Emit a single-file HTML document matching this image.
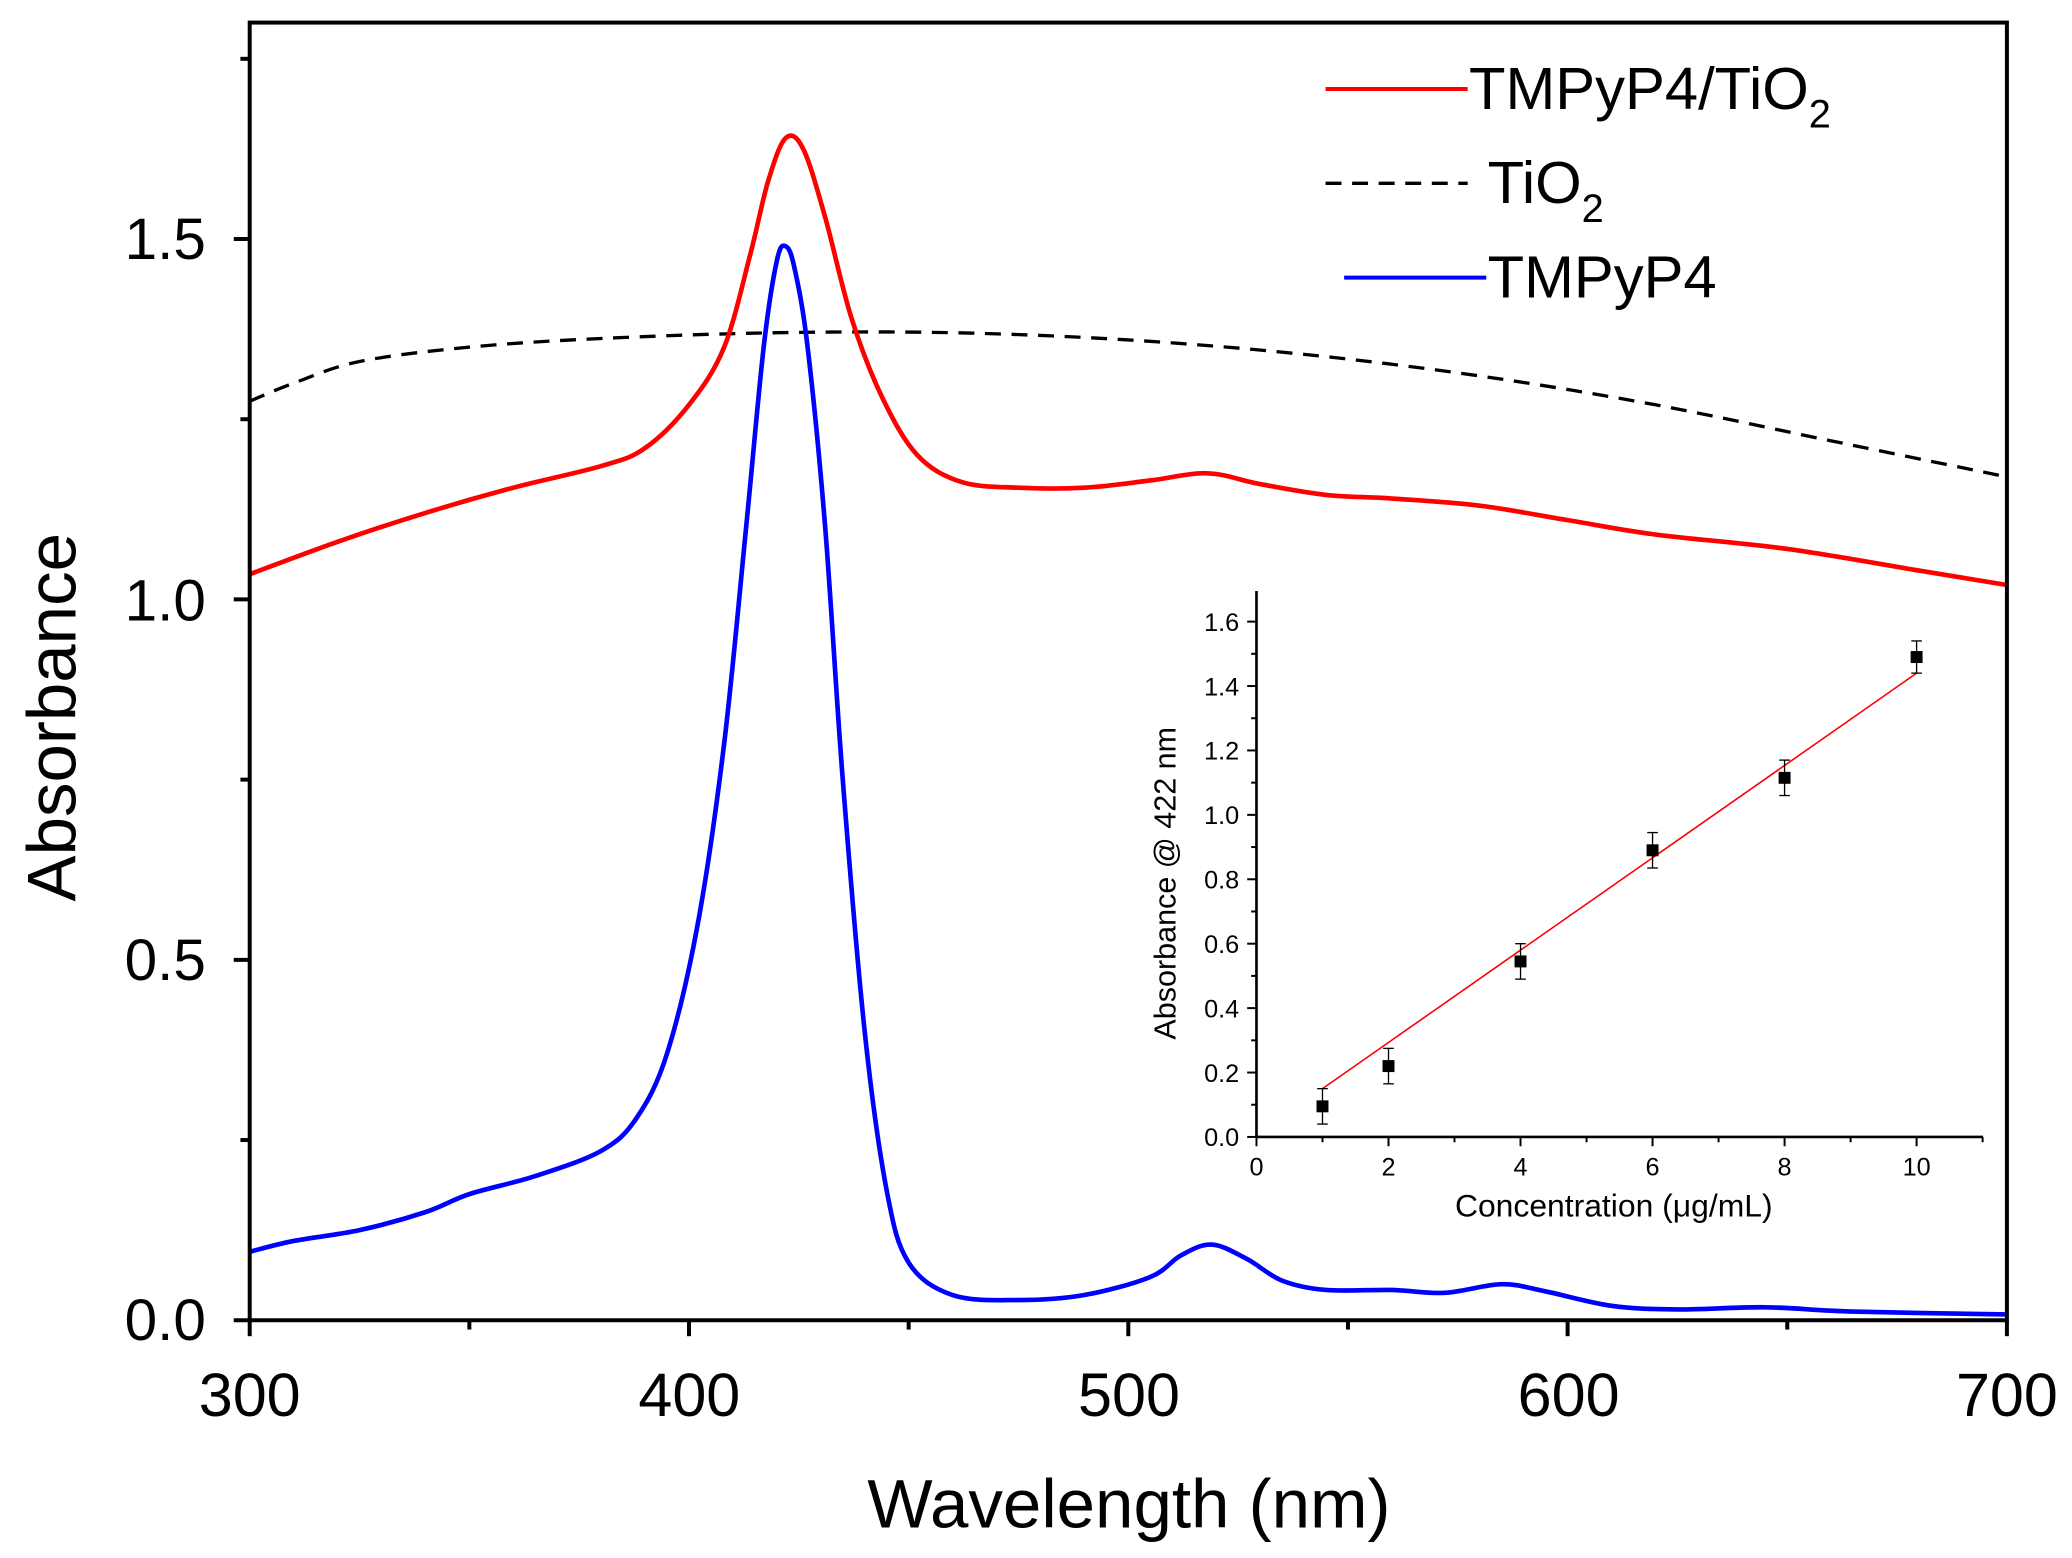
<!DOCTYPE html>
<html><head><meta charset="utf-8"><style>
html,body{margin:0;padding:0;background:#fff}
svg{display:block}
text{font-family:"Liberation Sans",Arial,sans-serif;fill:#000}
</style></head><body>
<svg id="s" width="2072" height="1558" viewBox="0 0 1560 1173" preserveAspectRatio="none" xmlns="http://www.w3.org/2000/svg">
<rect width="1560" height="1173" fill="#fff"/>
<g id="g"></g>
<rect x="188" y="17" width="1323" height="977" fill="none" stroke="#000" stroke-width="3"/>
<g font-size="46" text-anchor="middle">
<text x="188" y="1066">300</text><text x="519" y="1066">400</text><text x="850" y="1066">500</text><text x="1181" y="1066">600</text><text x="1511" y="1066">700</text>
</g>
<g font-size="44" text-anchor="end">
<text x="155" y="1009">0.0</text><text x="155" y="738">0.5</text><text x="155" y="467">1.0</text><text x="155" y="195">1.5</text>
</g>
<text x="850" y="1150" font-size="52" text-anchor="middle">Wavelength (nm)</text>
<text transform="translate(57,540) rotate(-90)" font-size="52" text-anchor="middle">Absorbance</text>
<line x1="998" y1="67" x2="1105" y2="67" stroke="#f00" stroke-width="3"/>
<text x="1106" y="82" font-size="45">TMPyP4/TiO<tspan font-size="30" dy="14">2</tspan></text>
<line x1="998" y1="138" x2="1105" y2="138" stroke="#000" stroke-width="2.5" stroke-dasharray="12,8"/>
<text x="1120" y="153" font-size="45">TiO<tspan font-size="30" dy="14">2</tspan></text>
<line x1="1012" y1="209" x2="1119" y2="209" stroke="#00f" stroke-width="3"/>
<text x="1120" y="224" font-size="45">TMPyP4</text>
<g id="ins"></g>
<line x1="946" y1="445" x2="946" y2="856" stroke="#000" stroke-width="2"/>
<line x1="946" y1="856" x2="1493" y2="856" stroke="#000" stroke-width="2"/>
<g font-size="19" text-anchor="end" id="iyl"></g>
<g font-size="19" text-anchor="middle" id="ixl"></g>
<text x="1215" y="916" font-size="24" text-anchor="middle">Concentration (μg/mL)</text>
<text transform="translate(885,665) rotate(-90)" font-size="23" text-anchor="middle">Absorbance @ 422 nm</text>
</svg>
<script>
var NS="http://www.w3.org/2000/svg",g=document.getElementById('g'),ins=document.getElementById('ins');
function X(n){return 188+(n-300)*3.3075}function Y(v){return 994-v*542.7}
function el(p,t,a){var e=document.createElementNS(NS,t);for(var k in a)e.setAttribute(k,a[k]);p.appendChild(e);return e}
function path(pts){var P=pts.map(function(p){return[X(p[0]),Y(p[1])]});var d="M"+P[0][0]+","+P[0][1];
for(var i=0;i<P.length-1;i++){var p0=P[i-1]||P[i],p1=P[i],p2=P[i+1],p3=P[i+2]||p2;
d+=" C"+(p1[0]+(p2[0]-p0[0])/6)+","+(p1[1]+(p2[1]-p0[1])/6)+" "+(p2[0]-(p3[0]-p1[0])/6)+","+(p2[1]-(p3[1]-p1[1])/6)+" "+p2[0]+","+p2[1];}return d}
var red=[[300,1.035],[320,1.08],[340,1.12],[360,1.155],[380,1.185],[390,1.21],[400,1.27],[408,1.35],[414,1.48],[418,1.58],[422,1.64],[426,1.625],[431,1.53],[437,1.39],[444,1.28],[452,1.2],[462,1.163],[475,1.155],[490,1.155],[505,1.165],[518,1.175],[530,1.16],[545,1.145],[560,1.14],[580,1.13],[600,1.11],[620,1.09],[650,1.07],[680,1.04],[700,1.02]];
var blue=[[300,0.095],[310,0.11],[325,0.125],[340,0.15],[350,0.175],[365,0.2],[380,0.235],[388,0.28],[395,0.37],[402,0.55],[408,0.8],[413,1.1],[417,1.35],[420,1.47],[422,1.49],[424,1.46],[427,1.35],[431,1.1],[435,0.75],[440,0.4],[445,0.18],[450,0.08],[460,0.035],[475,0.028],[490,0.035],[505,0.06],[512,0.09],[519,0.105],[527,0.085],[535,0.055],[545,0.042],[560,0.042],[572,0.038],[585,0.05],[595,0.04],[610,0.02],[625,0.015],[645,0.018],[665,0.012],[700,0.008]];
var tio=[[300,1.275],[310,1.3],[325,1.33],[350,1.35],[380,1.362],[420,1.37],[460,1.37],[500,1.36],[540,1.34],[580,1.31],[620,1.27],[660,1.22],[700,1.17]];
el(g,'path',{d:path(tio),fill:'none',stroke:'#000','stroke-width':2.5,'stroke-dasharray':'12,8'});
el(g,'path',{d:path(red),fill:'none',stroke:'#f00','stroke-width':3.5});
el(g,'path',{d:path(blue),fill:'none',stroke:'#00f','stroke-width':3.5});
for(var n=300;n<=700;n+=50){var L=n%100?7:12;el(g,'line',{x1:X(n),y1:994,x2:X(n),y2:994+L,stroke:'#000','stroke-width':3});}
for(var v=0;v<=1.75;v+=0.25){var L=(Math.round(v*4)%2)?7:12;el(g,'line',{x1:188,y1:Y(v),x2:188-L,y2:Y(v),stroke:'#000','stroke-width':3});}
function IX(c){return 946+c*49.7}function IY(v){return 856-v*242.5}
var iyl=document.getElementById('iyl'),ixl=document.getElementById('ixl');
for(var k=0;k<=16;k++){var v=k/10;el(ins,'line',{x1:946,y1:IY(v),x2:k%2?942:939,y2:IY(v),stroke:'#000','stroke-width':1.5});if(k%2==0){var t=el(iyl,'text',{x:933,y:IY(v)+7});t.textContent=v.toFixed(1);}}
for(var c=0;c<=11;c++){el(ins,'line',{x1:IX(c),y1:856,x2:IX(c),y2:c%2?860:863,stroke:'#000','stroke-width':1.5});if(c%2==0){var t=el(ixl,'text',{x:IX(c),y:885});t.textContent=c;}}
el(ins,'line',{x1:IX(1),y1:IY(0.15),x2:IX(10),y2:IY(1.44),stroke:'#f00','stroke-width':1.2});
[[1,0.095,0.055],[2,0.22,0.055],[4,0.545,0.055],[6,0.89,0.055],[8,1.115,0.055],[10,1.49,0.05]].forEach(function(p){
var x=IX(p[0]);el(ins,'line',{x1:x,y1:IY(p[1]-p[2]),x2:x,y2:IY(p[1]+p[2]),stroke:'#000','stroke-width':1});
el(ins,'line',{x1:x-4,y1:IY(p[1]-p[2]),x2:x+4,y2:IY(p[1]-p[2]),stroke:'#000','stroke-width':1});
el(ins,'line',{x1:x-4,y1:IY(p[1]+p[2]),x2:x+4,y2:IY(p[1]+p[2]),stroke:'#000','stroke-width':1});
el(ins,'rect',{x:x-4.5,y:IY(p[1])-4.5,width:9,height:9,fill:'#000'});});
</script>
</body></html>
